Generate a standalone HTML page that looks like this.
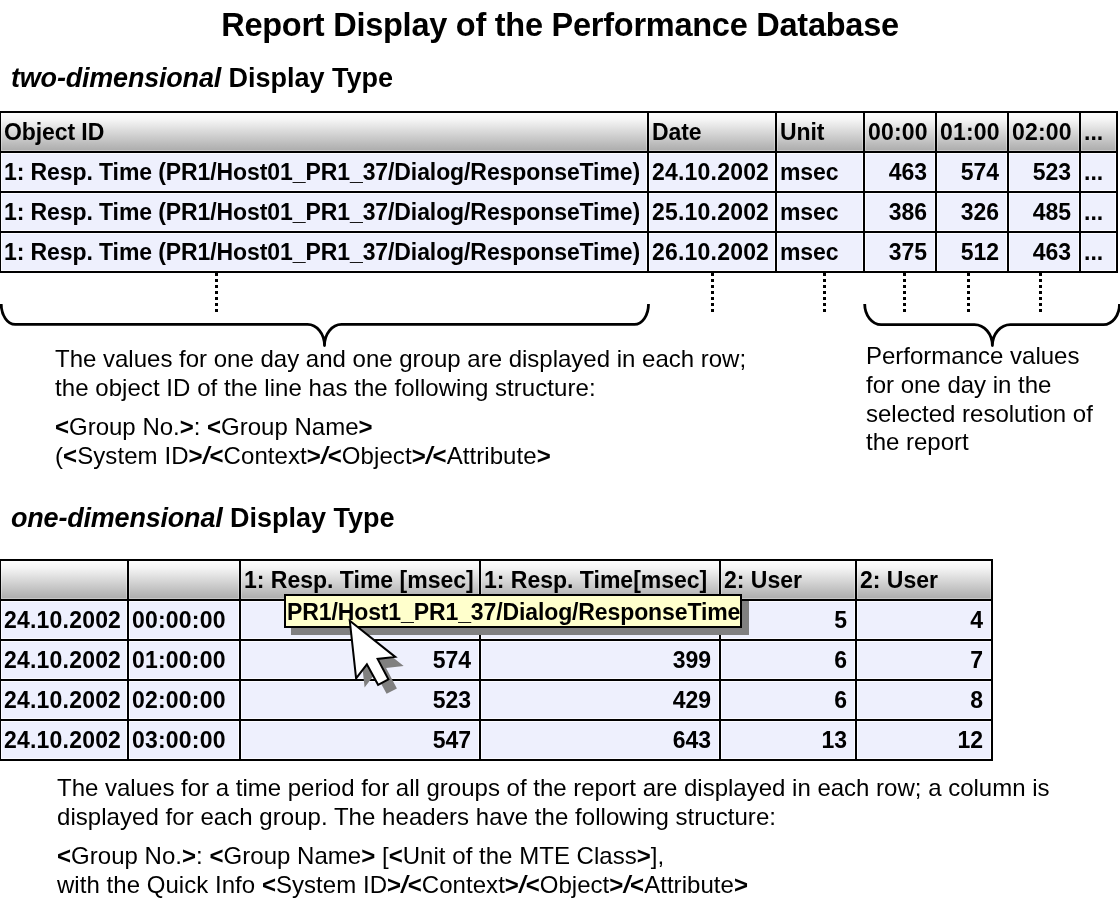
<!DOCTYPE html><html><head><meta charset="utf-8"><style>
html,body{margin:0;padding:0;background:#fff;}
body{width:1120px;height:920px;position:relative;overflow:hidden;font-family:"Liberation Sans", Arial, sans-serif;color:#000;}
.t{position:absolute;white-space:pre;}
#w{position:absolute;left:0;top:0;width:1120px;height:920px;will-change:transform;}
.r{position:absolute;box-sizing:border-box;}
b{font-weight:bold;} .bi{font-weight:bold;font-style:italic;}
</style></head><body><div id="w">
<div class="t" style="left:0;top:9px;width:1120px;text-align:center;font-size:32.5px;line-height:32px;font-weight:bold;letter-spacing:-0.25px;">Report Display of the Performance Database</div>
<div class="t" style="left:11px;top:65px;font-size:27px;line-height:27px;font-weight:bold;"><i style="letter-spacing:-0.2px">two-dimensional</i> Display Type</div>
<div class="r" style="left:1px;top:113px;width:646px;height:38px;background:linear-gradient(to bottom, #fdfdfd 0%, #f5f5f5 18%, #b0b0b0 95%, #aeaeae 100%);box-shadow: inset 0 0 0 1px rgba(255,255,255,0.3);"></div>
<div class="r" style="left:649px;top:113px;width:126px;height:38px;background:linear-gradient(to bottom, #fdfdfd 0%, #f5f5f5 18%, #b0b0b0 95%, #aeaeae 100%);box-shadow: inset 0 0 0 1px rgba(255,255,255,0.3);"></div>
<div class="r" style="left:777px;top:113px;width:86px;height:38px;background:linear-gradient(to bottom, #fdfdfd 0%, #f5f5f5 18%, #b0b0b0 95%, #aeaeae 100%);box-shadow: inset 0 0 0 1px rgba(255,255,255,0.3);"></div>
<div class="r" style="left:865px;top:113px;width:70px;height:38px;background:linear-gradient(to bottom, #fdfdfd 0%, #f5f5f5 18%, #b0b0b0 95%, #aeaeae 100%);box-shadow: inset 0 0 0 1px rgba(255,255,255,0.3);"></div>
<div class="r" style="left:937px;top:113px;width:70px;height:38px;background:linear-gradient(to bottom, #fdfdfd 0%, #f5f5f5 18%, #b0b0b0 95%, #aeaeae 100%);box-shadow: inset 0 0 0 1px rgba(255,255,255,0.3);"></div>
<div class="r" style="left:1009px;top:113px;width:70px;height:38px;background:linear-gradient(to bottom, #fdfdfd 0%, #f5f5f5 18%, #b0b0b0 95%, #aeaeae 100%);box-shadow: inset 0 0 0 1px rgba(255,255,255,0.3);"></div>
<div class="r" style="left:1081px;top:113px;width:35px;height:38px;background:linear-gradient(to bottom, #fdfdfd 0%, #f5f5f5 18%, #b0b0b0 95%, #aeaeae 100%);box-shadow: inset 0 0 0 1px rgba(255,255,255,0.3);"></div>
<div class="r" style="left:1px;top:153px;width:646px;height:38px;background:#eef0fd;box-shadow: inset 0 0 0 1px rgba(255,255,255,0.75);"></div>
<div class="r" style="left:649px;top:153px;width:126px;height:38px;background:#eef0fd;box-shadow: inset 0 0 0 1px rgba(255,255,255,0.75);"></div>
<div class="r" style="left:777px;top:153px;width:86px;height:38px;background:#eef0fd;box-shadow: inset 0 0 0 1px rgba(255,255,255,0.75);"></div>
<div class="r" style="left:865px;top:153px;width:70px;height:38px;background:#eef0fd;box-shadow: inset 0 0 0 1px rgba(255,255,255,0.75);"></div>
<div class="r" style="left:937px;top:153px;width:70px;height:38px;background:#eef0fd;box-shadow: inset 0 0 0 1px rgba(255,255,255,0.75);"></div>
<div class="r" style="left:1009px;top:153px;width:70px;height:38px;background:#eef0fd;box-shadow: inset 0 0 0 1px rgba(255,255,255,0.75);"></div>
<div class="r" style="left:1081px;top:153px;width:35px;height:38px;background:#eef0fd;box-shadow: inset 0 0 0 1px rgba(255,255,255,0.75);"></div>
<div class="r" style="left:1px;top:193px;width:646px;height:38px;background:#eef0fd;box-shadow: inset 0 0 0 1px rgba(255,255,255,0.75);"></div>
<div class="r" style="left:649px;top:193px;width:126px;height:38px;background:#eef0fd;box-shadow: inset 0 0 0 1px rgba(255,255,255,0.75);"></div>
<div class="r" style="left:777px;top:193px;width:86px;height:38px;background:#eef0fd;box-shadow: inset 0 0 0 1px rgba(255,255,255,0.75);"></div>
<div class="r" style="left:865px;top:193px;width:70px;height:38px;background:#eef0fd;box-shadow: inset 0 0 0 1px rgba(255,255,255,0.75);"></div>
<div class="r" style="left:937px;top:193px;width:70px;height:38px;background:#eef0fd;box-shadow: inset 0 0 0 1px rgba(255,255,255,0.75);"></div>
<div class="r" style="left:1009px;top:193px;width:70px;height:38px;background:#eef0fd;box-shadow: inset 0 0 0 1px rgba(255,255,255,0.75);"></div>
<div class="r" style="left:1081px;top:193px;width:35px;height:38px;background:#eef0fd;box-shadow: inset 0 0 0 1px rgba(255,255,255,0.75);"></div>
<div class="r" style="left:1px;top:233px;width:646px;height:38px;background:#eef0fd;box-shadow: inset 0 0 0 1px rgba(255,255,255,0.75);"></div>
<div class="r" style="left:649px;top:233px;width:126px;height:38px;background:#eef0fd;box-shadow: inset 0 0 0 1px rgba(255,255,255,0.75);"></div>
<div class="r" style="left:777px;top:233px;width:86px;height:38px;background:#eef0fd;box-shadow: inset 0 0 0 1px rgba(255,255,255,0.75);"></div>
<div class="r" style="left:865px;top:233px;width:70px;height:38px;background:#eef0fd;box-shadow: inset 0 0 0 1px rgba(255,255,255,0.75);"></div>
<div class="r" style="left:937px;top:233px;width:70px;height:38px;background:#eef0fd;box-shadow: inset 0 0 0 1px rgba(255,255,255,0.75);"></div>
<div class="r" style="left:1009px;top:233px;width:70px;height:38px;background:#eef0fd;box-shadow: inset 0 0 0 1px rgba(255,255,255,0.75);"></div>
<div class="r" style="left:1081px;top:233px;width:35px;height:38px;background:#eef0fd;box-shadow: inset 0 0 0 1px rgba(255,255,255,0.75);"></div>
<div class="r" style="left:0px;top:111px;width:1118px;height:2px;background:#000;"></div>
<div class="r" style="left:0px;top:151px;width:1118px;height:2px;background:#000;"></div>
<div class="r" style="left:0px;top:191px;width:1118px;height:2px;background:#000;"></div>
<div class="r" style="left:0px;top:231px;width:1118px;height:2px;background:#000;"></div>
<div class="r" style="left:0px;top:271px;width:1118px;height:2px;background:#000;"></div>
<div class="r" style="left:-1px;top:111px;width:2px;height:162px;background:#000;"></div>
<div class="r" style="left:647px;top:111px;width:2px;height:162px;background:#000;"></div>
<div class="r" style="left:775px;top:111px;width:2px;height:162px;background:#000;"></div>
<div class="r" style="left:863px;top:111px;width:2px;height:162px;background:#000;"></div>
<div class="r" style="left:935px;top:111px;width:2px;height:162px;background:#000;"></div>
<div class="r" style="left:1007px;top:111px;width:2px;height:162px;background:#000;"></div>
<div class="r" style="left:1079px;top:111px;width:2px;height:162px;background:#000;"></div>
<div class="r" style="left:1116px;top:111px;width:2px;height:162px;background:#000;"></div>
<div class="t" style="left:4px;top:121px;font-size:23px;line-height:23px;font-weight:bold;letter-spacing:-0.09px;">Object ID</div>
<div class="t" style="left:652px;top:121px;font-size:23px;line-height:23px;font-weight:bold;letter-spacing:-0.09px;">Date</div>
<div class="t" style="left:780px;top:121px;font-size:23px;line-height:23px;font-weight:bold;letter-spacing:-0.09px;">Unit</div>
<div class="t" style="left:868px;top:121px;font-size:23px;line-height:23px;font-weight:bold;letter-spacing:0.2px;">00:00</div>
<div class="t" style="left:940px;top:121px;font-size:23px;line-height:23px;font-weight:bold;letter-spacing:0.2px;">01:00</div>
<div class="t" style="left:1012px;top:121px;font-size:23px;line-height:23px;font-weight:bold;letter-spacing:0.2px;">02:00</div>
<div class="t" style="left:1084px;top:121px;font-size:23px;line-height:23px;font-weight:bold;letter-spacing:0px;">...</div>
<div class="t" style="left:4px;top:161px;font-size:23px;line-height:23px;font-weight:bold;letter-spacing:-0.09px;">1: Resp. Time (PR1/Host01_PR1_37/Dialog/ResponseTime)</div>
<div class="t" style="left:652px;top:161px;font-size:23px;line-height:23px;font-weight:bold;letter-spacing:0.2px;">24.10.2002</div>
<div class="t" style="left:780px;top:161px;font-size:23px;line-height:23px;font-weight:bold;letter-spacing:-0.09px;">msec</div>
<div class="t" style="left:865px;top:161px;font-size:23px;line-height:23px;font-weight:bold;letter-spacing:0px;width:62px;text-align:right;">463</div>
<div class="t" style="left:937px;top:161px;font-size:23px;line-height:23px;font-weight:bold;letter-spacing:0px;width:62px;text-align:right;">574</div>
<div class="t" style="left:1009px;top:161px;font-size:23px;line-height:23px;font-weight:bold;letter-spacing:0px;width:62px;text-align:right;">523</div>
<div class="t" style="left:1084px;top:161px;font-size:23px;line-height:23px;font-weight:bold;letter-spacing:0px;">...</div>
<div class="t" style="left:4px;top:201px;font-size:23px;line-height:23px;font-weight:bold;letter-spacing:-0.09px;">1: Resp. Time (PR1/Host01_PR1_37/Dialog/ResponseTime)</div>
<div class="t" style="left:652px;top:201px;font-size:23px;line-height:23px;font-weight:bold;letter-spacing:0.2px;">25.10.2002</div>
<div class="t" style="left:780px;top:201px;font-size:23px;line-height:23px;font-weight:bold;letter-spacing:-0.09px;">msec</div>
<div class="t" style="left:865px;top:201px;font-size:23px;line-height:23px;font-weight:bold;letter-spacing:0px;width:62px;text-align:right;">386</div>
<div class="t" style="left:937px;top:201px;font-size:23px;line-height:23px;font-weight:bold;letter-spacing:0px;width:62px;text-align:right;">326</div>
<div class="t" style="left:1009px;top:201px;font-size:23px;line-height:23px;font-weight:bold;letter-spacing:0px;width:62px;text-align:right;">485</div>
<div class="t" style="left:1084px;top:201px;font-size:23px;line-height:23px;font-weight:bold;letter-spacing:0px;">...</div>
<div class="t" style="left:4px;top:241px;font-size:23px;line-height:23px;font-weight:bold;letter-spacing:-0.09px;">1: Resp. Time (PR1/Host01_PR1_37/Dialog/ResponseTime)</div>
<div class="t" style="left:652px;top:241px;font-size:23px;line-height:23px;font-weight:bold;letter-spacing:0.2px;">26.10.2002</div>
<div class="t" style="left:780px;top:241px;font-size:23px;line-height:23px;font-weight:bold;letter-spacing:-0.09px;">msec</div>
<div class="t" style="left:865px;top:241px;font-size:23px;line-height:23px;font-weight:bold;letter-spacing:0px;width:62px;text-align:right;">375</div>
<div class="t" style="left:937px;top:241px;font-size:23px;line-height:23px;font-weight:bold;letter-spacing:0px;width:62px;text-align:right;">512</div>
<div class="t" style="left:1009px;top:241px;font-size:23px;line-height:23px;font-weight:bold;letter-spacing:0px;width:62px;text-align:right;">463</div>
<div class="t" style="left:1084px;top:241px;font-size:23px;line-height:23px;font-weight:bold;letter-spacing:0px;">...</div>
<div class="r" style="left:215px;top:273px;width:3px;height:39px;background:repeating-linear-gradient(to bottom,#000 0,#000 3px,transparent 3px,transparent 6px);"></div>
<div class="r" style="left:711px;top:273px;width:3px;height:39px;background:repeating-linear-gradient(to bottom,#000 0,#000 3px,transparent 3px,transparent 6px);"></div>
<div class="r" style="left:823px;top:273px;width:3px;height:39px;background:repeating-linear-gradient(to bottom,#000 0,#000 3px,transparent 3px,transparent 6px);"></div>
<div class="r" style="left:903px;top:273px;width:3px;height:39px;background:repeating-linear-gradient(to bottom,#000 0,#000 3px,transparent 3px,transparent 6px);"></div>
<div class="r" style="left:967px;top:273px;width:3px;height:39px;background:repeating-linear-gradient(to bottom,#000 0,#000 3px,transparent 3px,transparent 6px);"></div>
<div class="r" style="left:1039px;top:273px;width:3px;height:39px;background:repeating-linear-gradient(to bottom,#000 0,#000 3px,transparent 3px,transparent 6px);"></div>
<svg style="position:absolute;left:0;top:0" width="1120" height="920">
<path d="M1.2,304 A14,20.399999999999977 0 0 0 15.2,324.4 L307.5,324.4 A17,21.100000000000023 0 0 1 324.5,345.5 A17,21.100000000000023 0 0 1 341.5,324.4 L634.5,324.4 A14,20.399999999999977 0 0 0 648.5,304" fill="none" stroke="#000" stroke-width="2.8" stroke-linejoin="round"/>
<path d="M864.7,304 A16.5,20.600000000000023 0 0 0 881.2,324.6 L974.4,324.6 A18,20.899999999999977 0 0 1 992.4,345.5 A18,20.899999999999977 0 0 1 1010.4,324.6 L1103.5,324.6 A16,20.600000000000023 0 0 0 1119.5,304" fill="none" stroke="#000" stroke-width="2.8" stroke-linejoin="round"/>
</svg>
<div class="t" style="left:55px;top:347px;font-size:24px;line-height:24px;">The values for one day and one group are displayed in each row;</div>
<div class="t" style="left:55px;top:376px;font-size:24px;line-height:24px;letter-spacing:0.055px;">the object ID of the line has the following structure:</div>
<div class="t" style="left:55px;top:415px;font-size:24px;line-height:24px;"><b>&lt;</b>Group No.<b>&gt;</b>: <b>&lt;</b>Group Name<b>&gt;</b></div>
<div class="t" style="left:55px;top:444px;font-size:24px;line-height:24px;letter-spacing:0.08px;">(<b>&lt;</b>System ID<b>&gt;</b><span class="bi">/</span><b>&lt;</b>Context<b>&gt;</b><span class="bi">/</span><b>&lt;</b>Object<b>&gt;</b><span class="bi">/</span><b>&lt;</b>Attribute<b>&gt;</b></div>
<div class="t" style="left:866px;top:344px;font-size:24px;line-height:24px;">Performance values</div>
<div class="t" style="left:866px;top:373px;font-size:24px;line-height:24px;">for one day in the</div>
<div class="t" style="left:866px;top:402px;font-size:24px;line-height:24px;">selected resolution of</div>
<div class="t" style="left:866px;top:430px;font-size:24px;line-height:24px;">the report</div>
<div class="t" style="left:11px;top:505px;font-size:27px;line-height:27px;font-weight:bold;"><i style="letter-spacing:-0.2px">one-dimensional</i> Display Type</div>
<div class="r" style="left:1px;top:561px;width:126px;height:38px;background:linear-gradient(to bottom, #fdfdfd 0%, #f5f5f5 18%, #b0b0b0 95%, #aeaeae 100%);box-shadow: inset 0 0 0 1px rgba(255,255,255,0.3);"></div>
<div class="r" style="left:129px;top:561px;width:110px;height:38px;background:linear-gradient(to bottom, #fdfdfd 0%, #f5f5f5 18%, #b0b0b0 95%, #aeaeae 100%);box-shadow: inset 0 0 0 1px rgba(255,255,255,0.3);"></div>
<div class="r" style="left:241px;top:561px;width:238px;height:38px;background:linear-gradient(to bottom, #fdfdfd 0%, #f5f5f5 18%, #b0b0b0 95%, #aeaeae 100%);box-shadow: inset 0 0 0 1px rgba(255,255,255,0.3);"></div>
<div class="r" style="left:481px;top:561px;width:238px;height:38px;background:linear-gradient(to bottom, #fdfdfd 0%, #f5f5f5 18%, #b0b0b0 95%, #aeaeae 100%);box-shadow: inset 0 0 0 1px rgba(255,255,255,0.3);"></div>
<div class="r" style="left:721px;top:561px;width:134px;height:38px;background:linear-gradient(to bottom, #fdfdfd 0%, #f5f5f5 18%, #b0b0b0 95%, #aeaeae 100%);box-shadow: inset 0 0 0 1px rgba(255,255,255,0.3);"></div>
<div class="r" style="left:857px;top:561px;width:134px;height:38px;background:linear-gradient(to bottom, #fdfdfd 0%, #f5f5f5 18%, #b0b0b0 95%, #aeaeae 100%);box-shadow: inset 0 0 0 1px rgba(255,255,255,0.3);"></div>
<div class="r" style="left:1px;top:601px;width:126px;height:38px;background:#eef0fd;box-shadow: inset 0 0 0 1px rgba(255,255,255,0.75);"></div>
<div class="r" style="left:129px;top:601px;width:110px;height:38px;background:#eef0fd;box-shadow: inset 0 0 0 1px rgba(255,255,255,0.75);"></div>
<div class="r" style="left:241px;top:601px;width:238px;height:38px;background:#eef0fd;box-shadow: inset 0 0 0 1px rgba(255,255,255,0.75);"></div>
<div class="r" style="left:481px;top:601px;width:238px;height:38px;background:#eef0fd;box-shadow: inset 0 0 0 1px rgba(255,255,255,0.75);"></div>
<div class="r" style="left:721px;top:601px;width:134px;height:38px;background:#eef0fd;box-shadow: inset 0 0 0 1px rgba(255,255,255,0.75);"></div>
<div class="r" style="left:857px;top:601px;width:134px;height:38px;background:#eef0fd;box-shadow: inset 0 0 0 1px rgba(255,255,255,0.75);"></div>
<div class="r" style="left:1px;top:641px;width:126px;height:38px;background:#eef0fd;box-shadow: inset 0 0 0 1px rgba(255,255,255,0.75);"></div>
<div class="r" style="left:129px;top:641px;width:110px;height:38px;background:#eef0fd;box-shadow: inset 0 0 0 1px rgba(255,255,255,0.75);"></div>
<div class="r" style="left:241px;top:641px;width:238px;height:38px;background:#eef0fd;box-shadow: inset 0 0 0 1px rgba(255,255,255,0.75);"></div>
<div class="r" style="left:481px;top:641px;width:238px;height:38px;background:#eef0fd;box-shadow: inset 0 0 0 1px rgba(255,255,255,0.75);"></div>
<div class="r" style="left:721px;top:641px;width:134px;height:38px;background:#eef0fd;box-shadow: inset 0 0 0 1px rgba(255,255,255,0.75);"></div>
<div class="r" style="left:857px;top:641px;width:134px;height:38px;background:#eef0fd;box-shadow: inset 0 0 0 1px rgba(255,255,255,0.75);"></div>
<div class="r" style="left:1px;top:681px;width:126px;height:38px;background:#eef0fd;box-shadow: inset 0 0 0 1px rgba(255,255,255,0.75);"></div>
<div class="r" style="left:129px;top:681px;width:110px;height:38px;background:#eef0fd;box-shadow: inset 0 0 0 1px rgba(255,255,255,0.75);"></div>
<div class="r" style="left:241px;top:681px;width:238px;height:38px;background:#eef0fd;box-shadow: inset 0 0 0 1px rgba(255,255,255,0.75);"></div>
<div class="r" style="left:481px;top:681px;width:238px;height:38px;background:#eef0fd;box-shadow: inset 0 0 0 1px rgba(255,255,255,0.75);"></div>
<div class="r" style="left:721px;top:681px;width:134px;height:38px;background:#eef0fd;box-shadow: inset 0 0 0 1px rgba(255,255,255,0.75);"></div>
<div class="r" style="left:857px;top:681px;width:134px;height:38px;background:#eef0fd;box-shadow: inset 0 0 0 1px rgba(255,255,255,0.75);"></div>
<div class="r" style="left:1px;top:721px;width:126px;height:38px;background:#eef0fd;box-shadow: inset 0 0 0 1px rgba(255,255,255,0.75);"></div>
<div class="r" style="left:129px;top:721px;width:110px;height:38px;background:#eef0fd;box-shadow: inset 0 0 0 1px rgba(255,255,255,0.75);"></div>
<div class="r" style="left:241px;top:721px;width:238px;height:38px;background:#eef0fd;box-shadow: inset 0 0 0 1px rgba(255,255,255,0.75);"></div>
<div class="r" style="left:481px;top:721px;width:238px;height:38px;background:#eef0fd;box-shadow: inset 0 0 0 1px rgba(255,255,255,0.75);"></div>
<div class="r" style="left:721px;top:721px;width:134px;height:38px;background:#eef0fd;box-shadow: inset 0 0 0 1px rgba(255,255,255,0.75);"></div>
<div class="r" style="left:857px;top:721px;width:134px;height:38px;background:#eef0fd;box-shadow: inset 0 0 0 1px rgba(255,255,255,0.75);"></div>
<div class="r" style="left:0px;top:559px;width:993px;height:2px;background:#000;"></div>
<div class="r" style="left:0px;top:599px;width:993px;height:2px;background:#000;"></div>
<div class="r" style="left:0px;top:639px;width:993px;height:2px;background:#000;"></div>
<div class="r" style="left:0px;top:679px;width:993px;height:2px;background:#000;"></div>
<div class="r" style="left:0px;top:719px;width:993px;height:2px;background:#000;"></div>
<div class="r" style="left:0px;top:759px;width:993px;height:2px;background:#000;"></div>
<div class="r" style="left:-1px;top:559px;width:2px;height:202px;background:#000;"></div>
<div class="r" style="left:127px;top:559px;width:2px;height:202px;background:#000;"></div>
<div class="r" style="left:239px;top:559px;width:2px;height:202px;background:#000;"></div>
<div class="r" style="left:479px;top:559px;width:2px;height:202px;background:#000;"></div>
<div class="r" style="left:719px;top:559px;width:2px;height:202px;background:#000;"></div>
<div class="r" style="left:855px;top:559px;width:2px;height:202px;background:#000;"></div>
<div class="r" style="left:991px;top:559px;width:2px;height:202px;background:#000;"></div>
<div class="t" style="left:244px;top:569px;font-size:23px;line-height:23px;font-weight:bold;letter-spacing:0px;">1: Resp. Time [msec]</div>
<div class="t" style="left:484px;top:569px;font-size:23px;line-height:23px;font-weight:bold;letter-spacing:0px;">1: Resp. Time[msec]</div>
<div class="t" style="left:724px;top:569px;font-size:23px;line-height:23px;font-weight:bold;letter-spacing:0px;">2: User</div>
<div class="t" style="left:860px;top:569px;font-size:23px;line-height:23px;font-weight:bold;letter-spacing:0px;">2: User</div>
<div class="t" style="left:4px;top:609px;font-size:23px;line-height:23px;font-weight:bold;letter-spacing:0.2px;">24.10.2002</div>
<div class="t" style="left:132px;top:609px;font-size:23px;line-height:23px;font-weight:bold;letter-spacing:0.2px;">00:00:00</div>
<div class="t" style="left:241px;top:609px;font-size:23px;line-height:23px;font-weight:bold;letter-spacing:0px;width:230px;text-align:right;">463</div>
<div class="t" style="left:721px;top:609px;font-size:23px;line-height:23px;font-weight:bold;letter-spacing:0px;width:126px;text-align:right;">5</div>
<div class="t" style="left:857px;top:609px;font-size:23px;line-height:23px;font-weight:bold;letter-spacing:0px;width:126px;text-align:right;">4</div>
<div class="t" style="left:4px;top:649px;font-size:23px;line-height:23px;font-weight:bold;letter-spacing:0.2px;">24.10.2002</div>
<div class="t" style="left:132px;top:649px;font-size:23px;line-height:23px;font-weight:bold;letter-spacing:0.2px;">01:00:00</div>
<div class="t" style="left:241px;top:649px;font-size:23px;line-height:23px;font-weight:bold;letter-spacing:0px;width:230px;text-align:right;">574</div>
<div class="t" style="left:481px;top:649px;font-size:23px;line-height:23px;font-weight:bold;letter-spacing:0px;width:230px;text-align:right;">399</div>
<div class="t" style="left:721px;top:649px;font-size:23px;line-height:23px;font-weight:bold;letter-spacing:0px;width:126px;text-align:right;">6</div>
<div class="t" style="left:857px;top:649px;font-size:23px;line-height:23px;font-weight:bold;letter-spacing:0px;width:126px;text-align:right;">7</div>
<div class="t" style="left:4px;top:689px;font-size:23px;line-height:23px;font-weight:bold;letter-spacing:0.2px;">24.10.2002</div>
<div class="t" style="left:132px;top:689px;font-size:23px;line-height:23px;font-weight:bold;letter-spacing:0.2px;">02:00:00</div>
<div class="t" style="left:241px;top:689px;font-size:23px;line-height:23px;font-weight:bold;letter-spacing:0px;width:230px;text-align:right;">523</div>
<div class="t" style="left:481px;top:689px;font-size:23px;line-height:23px;font-weight:bold;letter-spacing:0px;width:230px;text-align:right;">429</div>
<div class="t" style="left:721px;top:689px;font-size:23px;line-height:23px;font-weight:bold;letter-spacing:0px;width:126px;text-align:right;">6</div>
<div class="t" style="left:857px;top:689px;font-size:23px;line-height:23px;font-weight:bold;letter-spacing:0px;width:126px;text-align:right;">8</div>
<div class="t" style="left:4px;top:729px;font-size:23px;line-height:23px;font-weight:bold;letter-spacing:0.2px;">24.10.2002</div>
<div class="t" style="left:132px;top:729px;font-size:23px;line-height:23px;font-weight:bold;letter-spacing:0.2px;">03:00:00</div>
<div class="t" style="left:241px;top:729px;font-size:23px;line-height:23px;font-weight:bold;letter-spacing:0px;width:230px;text-align:right;">547</div>
<div class="t" style="left:481px;top:729px;font-size:23px;line-height:23px;font-weight:bold;letter-spacing:0px;width:230px;text-align:right;">643</div>
<div class="t" style="left:721px;top:729px;font-size:23px;line-height:23px;font-weight:bold;letter-spacing:0px;width:126px;text-align:right;">13</div>
<div class="t" style="left:857px;top:729px;font-size:23px;line-height:23px;font-weight:bold;letter-spacing:0px;width:126px;text-align:right;">12</div>
<div class="r" style="left:291px;top:601px;width:458px;height:34px;background:#808080;"></div>
<div class="r" style="left:284px;top:594px;width:458px;height:34px;background:#ffffcc;border:2px solid #000;"></div>
<div class="t" style="left:287px;top:601px;font-size:23px;line-height:23px;font-weight:bold;letter-spacing:-0.11px;">PR1/Host1_PR1_37/Dialog/ResponseTime</div>
<svg style="position:absolute;left:0;top:0" width="1120" height="920">
<polygon points="358.3,629.8 364.6,687.4 375.4,673.3 386.6,693.8 396.9,688.4 386.1,667.9 403.7,665.9" fill="#808080"/>
<polygon points="349.8,620.8 356.1,678.4 366.9,664.3 378.1,684.8 388.4,679.4 377.6,658.9 395.2,656.9" fill="#fff" stroke="#000" stroke-width="2" stroke-linejoin="miter"/>
</svg>
<div class="t" style="left:57px;top:776px;font-size:24px;line-height:24px;">The values for a time period for all groups of the report are displayed in each row; a column is</div>
<div class="t" style="left:57px;top:805px;font-size:24px;line-height:24px;letter-spacing:0.045px;">displayed for each group. The headers have the following structure:</div>
<div class="t" style="left:57px;top:844px;font-size:24px;line-height:24px;letter-spacing:0.03px;"><b>&lt;</b>Group No.<b>&gt;</b>: <b>&lt;</b>Group Name<b>&gt;</b> [<b>&lt;</b>Unit of the MTE Class<b>&gt;</b>],</div>
<div class="t" style="left:57px;top:873px;font-size:24px;line-height:24px;letter-spacing:0.04px;">with the Quick Info <b>&lt;</b>System ID<b>&gt;</b><span class="bi">/</span><b>&lt;</b>Context<b>&gt;</b><span class="bi">/</span><b>&lt;</b>Object<b>&gt;</b><span class="bi">/</span><b>&lt;</b>Attribute<b>&gt;</b></div>
</div></body></html>
